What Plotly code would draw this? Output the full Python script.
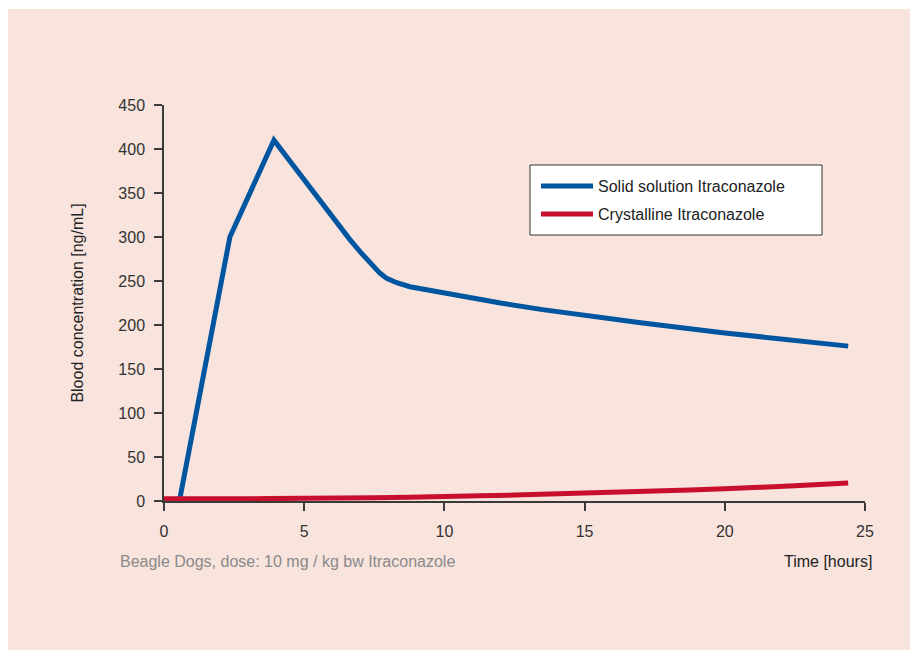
import plotly.graph_objects as go

# Data
solid_time = [0.55, 2.35, 3.92, 6.0, 6.63, 7.0, 7.35, 7.7, 7.94, 8.3, 8.77, 9.84, 10.56,
              12.0, 13.5, 15.0, 17.0, 20.0, 22.0, 24.4]
solid_conc = [0, 300, 410, 322, 297, 283, 270, 259, 253, 248, 243.5, 237, 233,
              225, 217.5, 210.5, 202.5, 191, 184, 176]

cryst_time = [0.0, 2.5, 5.0, 7.5, 10.0, 12.5, 15.0, 17.5, 20.0, 22.5, 24.4]
cryst_conc = [2.5, 2.5, 3, 3.8, 5, 6.8, 9, 11.3, 14, 17.2, 20.5]

x_ticks = [0, 5, 10, 15, 20, 25]
y_ticks = [0, 50, 100, 150, 200, 250, 300, 350, 400, 450]

FONT = "Liberation Sans Narrow, Arial Narrow, Liberation Sans, Arial, sans-serif"
PINK = "#F8E3DD"
AXIS = "#3a3a3a"

# page-pixel -> paper helpers (plot area spans page x 164..865, y 105..501)
def px(x):
    return (x - 164) / 701

def py(y):
    return (501 - y) / 396

fig = go.Figure()
fig.add_trace(go.Scatter(x=solid_time, y=solid_conc, mode="lines",
                         name="Solid solution Itraconazole", legend="legend",
                         line=dict(color="#0055A0", width=5, shape="linear")))
fig.add_trace(go.Scatter(x=cryst_time, y=cryst_conc, mode="lines",
                         name="Crystalline Itraconazole", legend="legend2",
                         line=dict(color="#C8102E", width=5, shape="spline", smoothing=0.6)))

leg_common = dict(xanchor="left", yanchor="middle", bgcolor="rgba(0,0,0,0)",
                  borderwidth=0, font=dict(family=FONT, size=16, color="#222222"),
                  itemwidth=52)

fig.update_layout(
    width=910, height=648,
    margin=dict(l=156, r=53, t=97, b=155),
    paper_bgcolor="white",
    plot_bgcolor=PINK,
    font=dict(family=FONT, size=16, color="#333333"),
    showlegend=True,
    legend=dict(x=px(536), y=py(186), **leg_common),
    legend2=dict(x=px(536), y=py(214), **leg_common),
    shapes=[
        dict(type="rect", xref="paper", yref="paper",
             x0=px(0), x1=px(912), y0=py(650), y1=py(9),
             fillcolor=PINK, line=dict(width=0), layer="below"),
        dict(type="rect", xref="paper", yref="paper",
             x0=px(530), x1=px(822), y0=py(235), y1=py(165),
             fillcolor="white", line=dict(color="#333333", width=1), layer="above"),
    ],
    annotations=[
        dict(text="Beagle Dogs, dose: 10 mg / kg bw Itraconazole", xref="paper", yref="paper",
             x=px(118), y=py(561), xanchor="left", yanchor="middle",
             showarrow=False, font=dict(family=FONT, size=16, color="#8a8a8a")),
        dict(text="Time [hours]", xref="paper", yref="paper",
             x=px(874), y=py(561), xanchor="right", yanchor="middle",
             showarrow=False, font=dict(family=FONT, size=16, color="#222222")),
    ],
)

fig.update_xaxes(range=[0, 25], tickvals=x_ticks, ticktext=[str(v) for v in x_ticks],
                 showgrid=False, zeroline=False, showline=True, linecolor=AXIS, linewidth=1.5,
                 ticks="outside", ticklen=8, tickcolor=AXIS, tickwidth=1.5,
                 ticklabelstandoff=7, tickfont=dict(family=FONT, size=16, color="#333333"))
fig.update_yaxes(range=[0, 450], tickvals=y_ticks, ticktext=[str(v) for v in y_ticks],
                 showgrid=False, zeroline=False, showline=True, linecolor=AXIS, linewidth=1.5,
                 ticks="outside", ticklen=8, tickcolor=AXIS, tickwidth=1.5,
                 ticklabelstandoff=6, tickfont=dict(family=FONT, size=16, color="#333333"),
                 title=dict(text="Blood concentration [ng/mL]", standoff=31,
                            font=dict(family=FONT, size=16, color="#222222")))

fig.write_html("out.html")
